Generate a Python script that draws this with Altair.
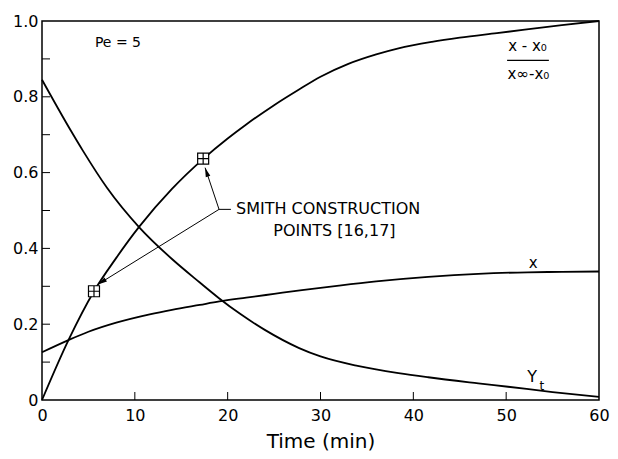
import math
import altair as alt
import pandas as pd

W, H = 557, 379
FONT = "DejaVu Sans"

# ---- curve data ----
t_ratio = [0, 2.85, 5.6, 8, 10.5, 14, 17.4, 20, 22, 25, 27.6, 30, 33, 36, 38.4, 42, 45, 49, 52, 56, 60]
v_ratio = [0, 0.158, 0.287, 0.375, 0.458, 0.557, 0.637, 0.69, 0.727, 0.778, 0.818, 0.853, 0.887,
           0.912, 0.928, 0.945, 0.956, 0.968, 0.977, 0.989, 1.0]

t_x = [0, 2.85, 5, 8, 11.6, 14, 17, 19.1, 22, 25, 28, 32, 36, 41.6, 47, 52.3, 56, 60]
v_x = [0.126, 0.158, 0.18, 0.204, 0.226, 0.238, 0.251, 0.26, 0.27, 0.28, 0.29, 0.302, 0.313,
       0.325, 0.333, 0.337, 0.338, 0.339]

t_yt = [0, 3.1, 4.4, 7, 10.5, 14, 17, 19.1, 21.3, 24, 27.7, 30, 34, 38.4, 41.6, 47, 50.2, 55, 60]
v_yt = [0.845, 0.711, 0.658, 0.56, 0.455, 0.372, 0.31, 0.268, 0.228, 0.185, 0.137, 0.115, 0.09,
        0.071, 0.06, 0.044, 0.035, 0.021, 0.008]

# Smith construction points
pt_t = [5.6, 17.36]
pt_v = [0.287, 0.637]

# annotation leader lines: vertex and arrow tips
vertex_t, vertex_v = 19.07, 0.503
tip_t = [17.57, 6.02]
tip_v = [0.613, 0.305]
hook_t = 20.35

# axis ticks / labels
x_labels = [0, 10, 20, 30, 40, 50, 60]
y_labels = [0, 0.2, 0.4, 0.6, 0.8, 1.0]
x_minor = [10, 20, 30, 40, 50]
y_minor = [0.1, 0.2, 0.3, 0.4, 0.5, 0.6, 0.7, 0.8, 0.9]

# ---- build tables ----
curves = pd.DataFrame(
    [{"t": a, "v": b, "c": "ratio"} for a, b in zip(t_ratio, v_ratio)]
    + [{"t": a, "v": b, "c": "x"} for a, b in zip(t_x, v_x)]
    + [{"t": a, "v": b, "c": "yt"} for a, b in zip(t_yt, v_yt)]
)

xs = alt.Scale(domain=[0, 60], nice=False, zero=False)
ys = alt.Scale(domain=[0, 1], nice=False, zero=False)

xaxis = alt.Axis(values=x_labels, labelFontSize=16, titleFontSize=20, labelPadding=7,
                 titlePadding=8, domain=False, ticks=False, tickSize=0, grid=False,
                 labelFont=FONT, titleFont=FONT, titleFontWeight="normal",
                 labelColor="black", titleColor="black", labelOverlap=False, labelFlush=False)
yaxis = alt.Axis(values=y_labels, labelFontSize=16, labelPadding=4, domain=False,
                 ticks=False, tickSize=0, grid=False, labelFont=FONT, labelColor="black",
                 labelOverlap=False, labelFlush=False,
                 labelExpr="datum.value == 0 ? '0' : format(datum.value, '.1f')")


def X(f):
    return alt.X(f, type="quantitative", scale=xs, axis=xaxis, title="Time (min)")


def Y(f):
    return alt.Y(f, type="quantitative", scale=ys, axis=yaxis, title=None)


lines = alt.Chart(curves).mark_line(color="black", strokeWidth=1.8, interpolate="monotone").encode(
    x=X("t"), y=Y("v"), detail="c:N"
)

ytick = alt.Chart(pd.DataFrame({"v": y_minor})).mark_rule(color="black", strokeWidth=1).encode(
    y=Y("v"), x=alt.value(0), x2=alt.value(8)
)
xtick = alt.Chart(pd.DataFrame({"t": x_minor})).mark_rule(color="black", strokeWidth=1).encode(
    x=X("t"), y=alt.value(H), y2=alt.value(H - 8)
)

# leader lines
seg = pd.DataFrame(
    [{"a": vertex_t, "b": vertex_v, "a2": tt, "b2": vv} for tt, vv in zip(tip_t, tip_v)]
    + [{"a": vertex_t, "b": vertex_v, "a2": hook_t, "b2": vertex_v}]
)
leaders = alt.Chart(seg).mark_rule(color="black", strokeWidth=1).encode(
    x=X("a"), y=Y("b"), x2="a2:Q", y2="b2:Q"
)

# arrowheads, rotated along the leader direction (in pixel space)
heads = []
for tt, vv in zip(tip_t, tip_v):
    dx = (tt - vertex_t) * W / 60.0
    dy = -(vv - vertex_v) * H / 1.0
    ang = math.degrees(math.atan2(dx, -dy)) % 360
    heads.append({"t": tt, "v": vv, "ang": ang})
arrow = alt.Chart(pd.DataFrame(heads)).mark_point(
    shape="M0,0L0.6,2.3L-0.6,2.3Z", filled=True, color="black", size=64, opacity=1
).encode(x=X("t"), y=Y("v"), angle=alt.Angle("ang:Q", scale=None))

boxes = alt.Chart(pd.DataFrame({"t": pt_t, "v": pt_v})).mark_point(
    shape="M-1,-1H1V1H-1Z M0,-1V1 M-1,0H1", fill="white", stroke="black", strokeWidth=1.2,
    size=121, opacity=1, fillOpacity=1
).encode(x=X("t"), y=Y("v"))


# text labels
def txt(df, **kw):
    props = dict(font=FONT, color="black", baseline="middle")
    props.update(kw)
    return alt.Chart(pd.DataFrame(df)).mark_text(**props).encode(x=X("t"), y=Y("v"), text="s:N")


pe = txt({"t": [5.7], "v": [0.941], "s": ["Pe = 5"]}, fontSize=14, align="left")
smith1 = txt({"t": [20.9], "v": [0.505], "s": ["SMITH CONSTRUCTION"]}, fontSize=16, align="left")
smith2 = txt({"t": [31.5], "v": [0.445], "s": ["POINTS [16,17]"]}, fontSize=16, align="center")
num = txt({"t": [52.3], "v": [0.933], "s": ["x - x₀"]}, fontSize=15, align="center")
den = txt({"t": [52.4], "v": [0.861], "s": ["x∞-x₀"]}, fontSize=15, align="center")
bar = alt.Chart(pd.DataFrame({"a": [50.1], "a2": [54.6], "b": [0.896]})).mark_rule(
    color="black", strokeWidth=1.2).encode(x=X("a"), x2="a2:Q", y=Y("b"))
xlab = txt({"t": [52.9], "v": [0.362], "s": ["x"]}, fontSize=15, align="center")
ylab = txt({"t": [52.8], "v": [0.062], "s": ["Y"]}, fontSize=16, align="center")
ysub = txt({"t": [53.6], "v": [0.038], "s": ["t"]}, fontSize=12, align="left")

chart = alt.layer(
    lines, ytick, xtick, leaders, arrow, boxes,
    pe, smith1, smith2, num, den, bar, xlab, ylab, ysub
).properties(
    width=W, height=H,
    autosize=alt.AutoSizeParams(type="none"),
    padding={"left": 34, "top": 13, "right": 11, "bottom": 51},
).configure_view(stroke="black", strokeWidth=1.5)

chart.save("out.html", embed_options={"renderer": "svg", "actions": False})
